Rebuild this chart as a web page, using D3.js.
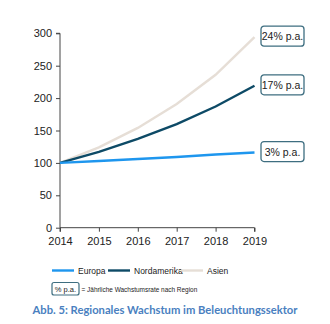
<!DOCTYPE html>
<html>
<head>
<meta charset="utf-8">
<script src="https://cdn.jsdelivr.net/npm/d3@7"></script>
<style>
  body { margin: 0; background: #fff; }
  svg { display: block; font-family: "Liberation Sans", Arial, sans-serif; }
  .axis path, .axis line { stroke: #444; }
  .axis text { fill: #222; font-size: 11px; }
</style>
</head>
<body>
<svg id="chart" width="330" height="324"></svg>
<script>
// data (index 2014 = 100)
var years = [2014, 2015, 2016, 2017, 2018, 2019];
var europa = [100, 103, 106, 109, 113, 116];
var nordamerika = [100, 117, 137, 160, 187, 219];
var asien = [100, 124, 154, 191, 236, 294];
var seriesNames = ["Europa", "Nordamerika", "Asien"];
var rateLabels = ["3% p.a.", "17% p.a.", "24% p.a."];
var yTicks = [0, 50, 100, 150, 200, 250, 300];

var colors = { Europa: "#1e96ee", Nordamerika: "#0d4a66", Asien: "#e6ded6" };
var seriesValues = { Europa: europa, Nordamerika: nordamerika, Asien: asien };

var svg = d3.select("#chart");

var x = d3.scaleLinear().domain([2014, 2019]).range([60, 254.5]);
var y = d3.scaleLinear().domain([0, 300]).range([227.7, 33.3]);

// axes
svg.append("g")
  .attr("class", "axis")
  .attr("transform", "translate(60,0)")
  .call(d3.axisLeft(y).tickValues(yTicks).tickSize(4).tickPadding(4))
  .call(function(g) { g.select(".domain").attr("d", "M0," + y(0) + "V" + y(300) + "H-4"); });

svg.append("g")
  .attr("class", "axis")
  .attr("transform", "translate(0," + y(0) + ")")
  .call(d3.axisBottom(x).tickValues(years).tickFormat(d3.format("d")).tickSize(4).tickPadding(6))
  .call(function(g) { g.select(".domain").attr("d", "M" + x(2014) + ",4V0H" + x(2019) + "V4"); });

var line = d3.line()
  .x(function(d, i) { return x(years[i]); })
  .y(function(d) { return y(d); });

// draw Asien first so the darker lines sit on top
["Asien", "Nordamerika", "Europa"].forEach(function(name) {
  svg.append("path")
    .datum(seriesValues[name])
    .attr("fill", "none")
    .attr("stroke", colors[name])
    .attr("stroke-width", 2.4)
    .attr("d", line);
});

// growth rate boxes
seriesNames.forEach(function(name, i) {
  var vals = seriesValues[name];
  var cy = y(vals[vals.length - 1]) - 1;
  var g = svg.append("g").attr("transform", "translate(261," + (cy - 10) + ")");
  g.append("rect")
    .attr("width", 43).attr("height", 20).attr("rx", 3)
    .attr("fill", "#fff").attr("stroke", "#3e6e80").attr("stroke-width", 1.3);
  g.append("text")
    .attr("x", 21.5).attr("y", 14)
    .attr("text-anchor", "middle")
    .attr("font-size", 10.5).attr("fill", "#222")
    .text(rateLabels[i]);
});

// legend
var legendX = [52, 108, 181];
seriesNames.forEach(function(name, i) {
  svg.append("line")
    .attr("x1", legendX[i]).attr("x2", legendX[i] + 22)
    .attr("y1", 270.5).attr("y2", 270.5)
    .attr("stroke", colors[name]).attr("stroke-width", 2.4);
  svg.append("text")
    .attr("x", legendX[i] + 26).attr("y", 273.5)
    .attr("font-size", 8.5).attr("fill", "#222")
    .text(name);
});

svg.append("rect")
  .attr("x", 52).attr("y", 282.5).attr("width", 27).attr("height", 12.5).attr("rx", 2)
  .attr("fill", "#fff").attr("stroke", "#3e6e80").attr("stroke-width", 1.2);
svg.append("text")
  .attr("x", 65.5).attr("y", 291.5).attr("text-anchor", "middle")
  .attr("font-size", 7.5).attr("fill", "#222")
  .text("% p.a.");
var note = svg.append("text")
  .attr("x", 81.5).attr("y", 291.5)
  .attr("font-size", 7.5).attr("fill", "#222")
  .text("= Jährliche Wachstumsrate nach Region");
// fit the note to the width seen in the picture
var nw = note.node().getComputedTextLength();
note.attr("font-size", Math.min(8.2, 7.5 * 116 / nw));

// caption
var cap = svg.append("text")
  .attr("x", 165).attr("y", 314).attr("text-anchor", "middle")
  .attr("font-family", "Lato, 'Open Sans', sans-serif")
  .attr("font-weight", "bold").attr("font-size", 11)
  .attr("fill", "#4a7fbf")
  .text("Abb. 5: Regionales Wachstum im Beleuchtungssektor");
var cw = cap.node().getComputedTextLength();
cap.attr("font-size", 11 * 265 / cw);
</script>
</body>
</html>
